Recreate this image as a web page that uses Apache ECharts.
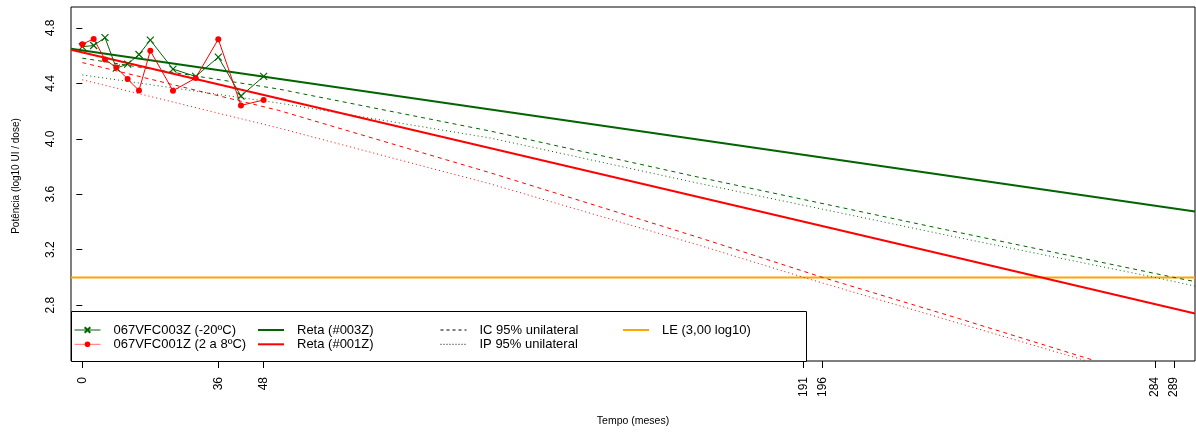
<!DOCTYPE html>
<html><head><meta charset="utf-8">
<script src="https://cdn.jsdelivr.net/npm/echarts@6/dist/echarts.min.js"></script>
<style>html,body{margin:0;padding:0;background:#fff}#c{width:1196px;height:432px}</style>
</head><body><div id="c"></div>
<script>
// ---- data ----
const months = [0, 3, 6, 9, 12, 15, 18, 24, 30, 36, 42, 48];
const pot003Z = [4.665, 4.673, 4.730, 4.510, 4.539, 4.608, 4.712, 4.503, 4.450, 4.589, 4.309, 4.450];
const pot001Z = [4.683, 4.721, 4.572, 4.514, 4.431, 4.349, 4.635, 4.347, 4.438, 4.719, 4.241, 4.280];

const retaMonths = [-3, 294.6];
const reta003Z = [4.650, 3.476];
const reta001Z = [4.642, 2.740];

const icMonths003Z = [0, 52, 108, 163, 229, 289, 295];
const ic003Z = [4.582, 4.359, 4.056, 3.724, 3.342, 3.000, 2.968];
const ipMonths003Z = [0, 52, 108, 163, 229, 284, 295];
const ip003Z = [4.461, 4.258, 4.006, 3.680, 3.304, 3.000, 2.935];
const icMonths001Z = [0, 52, 108, 163, 196, 232, 268];
const ic001Z = [4.550, 4.205, 3.755, 3.290, 3.000, 2.704, 2.400];
const ipMonths001Z = [0, 52, 108, 163, 191, 232, 266];
const ip001Z = [4.426, 4.078, 3.675, 3.235, 3.000, 2.670, 2.397];

const limiteLE = 3.0;
const xTicks = [0, 36, 48, 191, 196, 284, 289];
const yTicks = [2.8, 3.2, 3.6, 4.0, 4.4, 4.8];

const names = {
  s003: '067VFC003Z (-20ºC)', s001: '067VFC001Z (2 a 8ºC)',
  r003: 'Reta (#003Z)', r001: 'Reta (#001Z)',
  ic: 'IC 95% unilateral', ip: 'IP 95% unilateral', le: 'LE (3,00 log10)'
};

// ---- build ----
const XMIN = -3, XMAX = 294.6, YMIN = 2.397, YMAX = 4.951;
const GREEN = '#006400', RED = '#ff0000', ORANGE = '#ffa500';
const FONT = '"Liberation Sans", Arial, sans-serif';
const zip = (a, b) => a.map((v, i) => [v, b[i]]);

const chart = echarts.init(document.getElementById('c'), null, {renderer: 'canvas'});
const legendBase = {
  orient: 'vertical', top: 323, padding: 0, itemWidth: 26, itemHeight: 7, itemGap: 0.3,
  selectedMode: false,
  textStyle: {fontFamily: FONT, fontSize: 13, color: '#000', lineHeight: 14, padding: [0, 0, 0, 8]}
};
const item = (name, extra) => Object.assign({name: name}, extra);
const noSym = {itemStyle: {opacity: 0}};
chart.setOption({
  animation: false,
  backgroundColor: '#fff',
  grid: {left: 71, right: 1, top: 7, bottom: 70, show: true, borderColor: '#000', borderWidth: 1, backgroundColor: 'transparent'},
  xAxis: {
    type: 'value', min: XMIN, max: XMAX,
    name: 'Tempo (meses)', nameLocation: 'middle', nameGap: 55,
    nameTextStyle: {fontFamily: FONT, fontSize: 10.5, color: '#000'},
    splitLine: {show: false},
    axisLine: {show: false},
    axisTick: {show: true, inside: false, length: 7, lineStyle: {color: '#000'}, customValues: xTicks},
    axisLabel: {rotate: 90, margin: 16, fontFamily: FONT, fontSize: 12, color: '#000', customValues: xTicks}
  },
  yAxis: {
    type: 'value', min: YMIN, max: YMAX,
    splitLine: {show: false},
    axisLine: {show: false},
    axisTick: {show: true, inside: false, length: 6, lineStyle: {color: '#000'}, customValues: yTicks},
    axisLabel: {rotate: 90, margin: 14, fontFamily: FONT, fontSize: 12, color: '#000',
      customValues: yTicks, formatter: v => v.toFixed(1)}
  },
  legend: [
    Object.assign({}, legendBase, {left: 74, data: [
      item(names.s003, {lineStyle: {width: 1}}),
      item(names.s001, {lineStyle: {width: 1, color: '#ff7070'}})]}),
    Object.assign({}, legendBase, {left: 257, data: [
      item(names.r003, Object.assign({lineStyle: {width: 2}}, noSym)),
      item(names.r001, Object.assign({lineStyle: {width: 2}}, noSym))]}),
    Object.assign({}, legendBase, {left: 440, data: [
      item(names.ic, Object.assign({lineStyle: {width: 1}}, noSym)),
      item(names.ip, Object.assign({lineStyle: {width: 1}}, noSym))]}),
    Object.assign({}, legendBase, {left: 622, data: [
      item(names.le, Object.assign({lineStyle: {width: 2}}, noSym))]})
  ],
  graphic: [
    {type: 'rect', z: 3, shape: {x: 71.5, y: 311.5, width: 735, height: 50},
      style: {fill: '#fff', stroke: '#000', lineWidth: 1}},
    {type: 'text', z: 5, x: 16, y: 176, rotation: Math.PI / 2,
      style: {text: 'Potência (log10 UI / dose)', font: '10px ' + FONT, fill: '#000',
        textAlign: 'center', textVerticalAlign: 'middle'}}
  ],
  series: [
    {name: names.le, type: 'line', data: zip(retaMonths, retaMonths.map(() => limiteLE)),
      symbol: 'none', lineStyle: {color: ORANGE, width: 2}, itemStyle: {color: ORANGE}, z: 2},
    {name: 'IC003', type: 'line', data: zip(icMonths003Z, ic003Z), symbol: 'none',
      lineStyle: {color: GREEN, width: 1, type: [4, 4]}, itemStyle: {color: GREEN}},
    {name: 'IP003', type: 'line', data: zip(ipMonths003Z, ip003Z), symbol: 'none',
      lineStyle: {color: GREEN, width: 1, type: [1, 3]}, itemStyle: {color: GREEN}},
    {name: 'IC001', type: 'line', data: zip(icMonths001Z, ic001Z), symbol: 'none',
      lineStyle: {color: RED, width: 1, type: [4, 4]}, itemStyle: {color: RED}},
    {name: 'IP001', type: 'line', data: zip(ipMonths001Z, ip001Z), symbol: 'none',
      lineStyle: {color: RED, width: 1, type: [1, 3]}, itemStyle: {color: RED}},
    {name: names.r003, type: 'line', data: zip(retaMonths, reta003Z), symbol: 'none',
      lineStyle: {color: GREEN, width: 2}, itemStyle: {color: GREEN}},
    {name: names.r001, type: 'line', data: zip(retaMonths, reta001Z), symbol: 'none',
      lineStyle: {color: RED, width: 2}, itemStyle: {color: RED}},
    {name: names.s003, type: 'line', data: zip(months, pot003Z),
      symbol: 'path://M0,0L10,10M10,0L0,10', symbolSize: 7, showAllSymbol: true,
      lineStyle: {color: GREEN, width: 1},
      itemStyle: {color: GREEN, borderColor: GREEN, borderWidth: 1.2}},
    {name: names.s001, type: 'line', data: zip(months, pot001Z),
      symbol: 'circle', symbolSize: 6, showAllSymbol: true,
      lineStyle: {color: RED, width: 1}, itemStyle: {color: RED}},
    {name: names.ic, type: 'line', data: [], symbol: 'none',
      lineStyle: {color: '#000', width: 1, type: [3, 3]}, itemStyle: {color: '#000'}},
    {name: names.ip, type: 'line', data: [], symbol: 'none',
      lineStyle: {color: '#000', width: 1, type: [1, 2]}, itemStyle: {color: '#000'}}
  ]
});
</script></body></html>
